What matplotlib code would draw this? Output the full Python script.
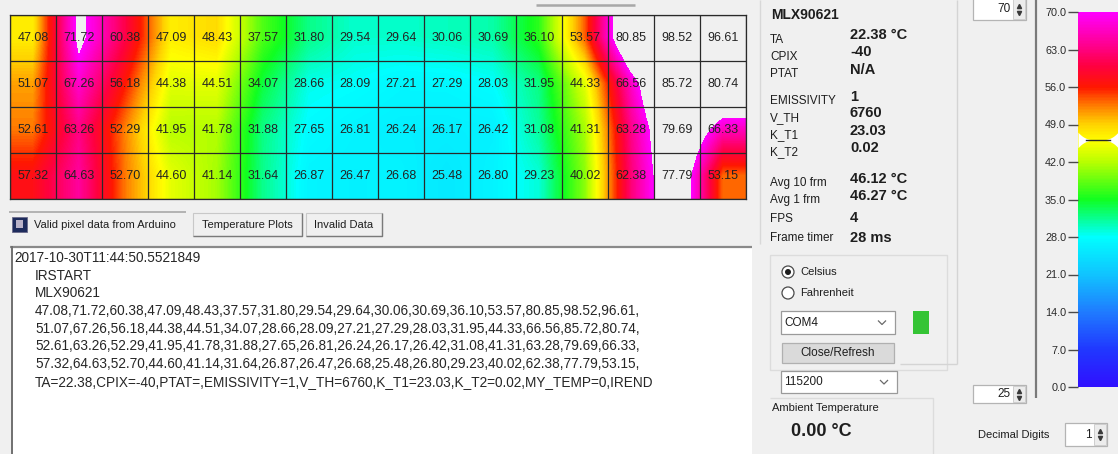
import numpy as np
import matplotlib
matplotlib.use("Agg")
import matplotlib.pyplot as plt
from matplotlib.colors import LinearSegmentedColormap, Normalize
from matplotlib.patches import Rectangle, Circle
import matplotlib.colorbar as mcolorbar

# ---- sensor frame (4 x 16 MLX90621 pixels, deg C) ----
pixel_row_0 = [47.08, 71.72, 60.38, 47.09, 48.43, 37.57, 31.80, 29.54, 29.64, 30.06, 30.69, 36.10, 53.57, 80.85, 98.52, 96.61]
pixel_row_1 = [51.07, 67.26, 56.18, 44.38, 44.51, 34.07, 28.66, 28.09, 27.21, 27.29, 28.03, 31.95, 44.33, 66.56, 85.72, 80.74]
pixel_row_2 = [52.61, 63.26, 52.29, 41.95, 41.78, 31.88, 27.65, 26.81, 26.24, 26.17, 26.42, 31.08, 41.31, 63.28, 79.69, 66.33]
pixel_row_3 = [57.32, 64.63, 52.70, 44.60, 41.14, 31.64, 26.87, 26.47, 26.68, 25.48, 26.80, 29.23, 40.02, 62.38, 77.79, 53.15]

# ---- sensor parameters ----
timestamp = "2017-10-30T11:44:50.5521849"
sensor_name = "MLX90621"
ta = 22.38
cpix = -40
emissivity = 1
v_th = 6760
k_t1 = 23.03
k_t2 = 0.02
my_temp = 0
avg_10_frames = 46.12
avg_1_frame = 46.27
fps = 4
frame_timer_ms = 28
ambient_temp = 0.00

# ---- colour scale ----
scale_min = 0.0
scale_max = 70.0
scale_ticks = [0.0, 7.0, 14.0, 21.0, 28.0, 35.0, 42.0, 49.0, 56.0, 63.0, 70.0]
spin_high = 70
spin_low = 25
decimal_digits = 1
com_port = "COM4"
baud_rate = 115200

tab_labels = ["Valid pixel data from Arduino", "Temperature Plots", "Invalid Data"]

W, H = 1118, 454
BG = "#f0f0f0"
FONT = "Liberation Sans"

pixels = np.array([pixel_row_0, pixel_row_1, pixel_row_2, pixel_row_3])
n_rows, n_cols = pixels.shape

cmap = LinearSegmentedColormap.from_list("thermal", [
    (0 / 70, "#3010ff"), (7 / 70, "#2038ff"), (14 / 70, "#1f7cff"),
    (21 / 70, "#10c4ff"), (28 / 70, "#00ffff"), (35 / 70, "#10ff20"),
    (42 / 70, "#b8ff00"), (46 / 70, "#ffff00"), (49 / 70, "#ffd400"),
    (52 / 70, "#ff8c00"), (56 / 70, "#ff1800"), (60 / 70, "#ff0040"),
    (64 / 70, "#ff0090"), (70 / 70, "#ff00ff")])
cmap.set_over(BG)
cmap.set_under("#3010ff")
norm = Normalize(vmin=scale_min, vmax=scale_max)

fig = plt.figure(figsize=(W / 100, H / 100), dpi=100, facecolor=BG)


def px_axes(x, y, w, h):
    return fig.add_axes([x / W, 1 - (y + h) / H, w / W, h / H])


# ---- window chrome drawn in pixel coordinates ----
ui = fig.add_axes([0, 0, 1, 1])
ui.set_xlim(0, W)
ui.set_ylim(H, 0)
ui.axis("off")
ui.set_facecolor(BG)


def rect(x0, y0, x1, y1, fc="none", ec="none", lw=1.0, z=1):
    ui.add_patch(Rectangle((x0, y0), x1 - x0, y1 - y0, facecolor=fc,
                           edgecolor=ec, linewidth=lw, zorder=z))


def line(xs, ys, c="#a0a0a0", lw=1.0, z=2):
    ui.plot(xs, ys, color=c, linewidth=lw, zorder=z, solid_capstyle="butt")


def txt(x, y, s, size=8.5, weight="normal", ha="left", va="center", c="#1e1e1e"):
    ui.text(x, y, s, fontsize=size, fontweight=weight, ha=ha, va=va,
            color=c, family=FONT, zorder=5)


# small scroll bar above the grid
line([536, 635], [5, 5], c="#a8a8a8", lw=1.8)

# tabs
line([9, 186], [212, 212], c="#a8a8a8", lw=1.2)
rect(12, 217, 27, 232, fc="#1d2b5c", ec="#6a6a8a", lw=0.6)
rect(16, 220, 23, 228, fc="#b9b2c8")
txt(34, 225, tab_labels[0], size=8)
for (x0, x1, lab) in [(193, 302, tab_labels[1]), (306, 382, tab_labels[2])]:
    rect(x0, 213, x1, 236, fc="#f0f0f0", ec="#c8c8c8", lw=0.8)
    line([x0, x1, x1], [236, 236, 213], c="#7a7a7a", lw=1.0)
    txt((x0 + x1) / 2, 225, lab, size=8, ha="center")

# serial log box
rect(12, 246, 752, 456, fc="white")
line([10, 752], [246.5, 246.5], c="#8a8a8a", lw=1.6)
line([12, 12], [246, 454], c="#707070", lw=1.4)

data_lines = [",".join(f"{v:.2f}" for v in row) + "," for row in pixels]
footer = (f"TA={ta:.2f},CPIX={cpix},PTAT=,EMISSIVITY={emissivity},V_TH={v_th},"
          f"K_T1={k_t1:.2f},K_T2={k_t2:.2f},MY_TEMP={my_temp},IREND")
log_lines = [(14, timestamp), (35, "IRSTART"), (35, sensor_name)] + \
            [(35, s) for s in data_lines] + [(35, footer)]
for i, (x, s) in enumerate(log_lines):
    txt(x, 258 + i * 17.7, s, size=9.8, c="#262626")

# ---- sensor readout panel ----
line([760, 760], [0, 244], c="#d8d8d8", lw=1.0)
txt(771, 15, sensor_name, size=10, weight="bold")
panel_rows = [
    ("TA", 40, f"{ta:.2f} °C", 35),
    ("CPIX", 57, f"{cpix}", 52),
    ("PTAT", 74, "N/A", 70),
    ("EMISSIVITY", 101, f"{emissivity}", 97),
    ("V_TH", 118, f"{v_th}", 113),
    ("K_T1", 135, f"{k_t1:.2f}", 131),
    ("K_T2", 152, f"{k_t2:.2f}", 148),
    ("Avg 10 frm", 183, f"{avg_10_frames:.2f} °C", 179),
    ("Avg 1 frm", 200, f"{avg_1_frame:.2f} °C", 196),
    ("FPS", 219, f"{fps}", 218),
    ("Frame timer", 238, f"{frame_timer_ms} ms", 238),
]
for lab, ly, val, vy in panel_rows:
    txt(770, ly, lab, size=8.5)
    txt(850, vy, val, size=10.5, weight="bold")

# options group
line([770, 947, 947, 770, 770], [255, 255, 370, 370, 255], c="#dcdcdc", lw=1.0)
line([957, 957], [0, 364], c="#d4d4d4", lw=1.0)
line([900, 957], [364, 364], c="#d4d4d4", lw=1.0)

ui.add_patch(Circle((788, 272), 6, facecolor="white", edgecolor="#4a4a4a", lw=0.9, zorder=3))
ui.add_patch(Circle((788, 272), 3, facecolor="#1e1e1e", edgecolor="none", zorder=4))
txt(800, 272, "Celsius", size=8)
ui.add_patch(Circle((788, 293), 6, facecolor="white", edgecolor="#4a4a4a", lw=0.9, zorder=3))
txt(800, 293, "Fahrenheit", size=8)


def combo(x0, y0, x1, y1, label):
    rect(x0, y0, x1, y1, fc="white", ec="#9a9a9a", lw=0.9, z=2)
    txt(x0 + 3, (y0 + y1) / 2, label, size=8.5)
    cx, cy = x1 - 13, (y0 + y1) / 2
    line([cx - 4, cx, cx + 4], [cy - 2, cy + 2, cy - 2], c="#6a6a6a", lw=0.9, z=3)


combo(781, 311, 895, 334, com_port)
rect(913, 311, 929, 334, fc="#35c435")
rect(782, 343, 894, 363, fc="#dadada", ec="#b0b0b0", lw=0.9)
txt(838, 353, "Close/Refresh", size=8.5, ha="center")
combo(781, 371, 897, 393, f"{baud_rate}")

# ambient temperature group
line([770, 933, 933], [398, 398, 454], c="#dcdcdc", lw=1.0)
txt(772, 408, "Ambient Temperature", size=8)
txt(791, 431, f"{ambient_temp:.2f} °C", size=13, weight="bold")


def spinbox(x0, y0, x1, y1, value):
    rect(x0, y0, x1, y1, fc="white", ec="#b4b4b4", lw=0.9, z=2)
    rect(x1 - 13, y0 + 1, x1 - 1, y1 - 1, fc="#ececec", ec="#c8c8c8", lw=0.6, z=3)
    cy = (y0 + y1) / 2
    ui.plot([x1 - 7], [cy - 3.5], marker="^", ms=3, color="#3a3a3a", zorder=4)
    ui.plot([x1 - 7], [cy + 3.5], marker="v", ms=3, color="#3a3a3a", zorder=4)
    txt(x1 - 15, cy, f"{value}", size=8.5, ha="right")


spinbox(973, -2, 1026, 20, spin_high)
spinbox(973, 385, 1026, 403, spin_low)
txt(978, 435, "Decimal Digits", size=8)
spinbox(1065, 423, 1107, 446, decimal_digits)
line([1036, 1036], [0, 398], c="#7a7a7a", lw=1.6)

# ---- interpolated thermal image ----
hm = px_axes(10, 15, 736, 184)
hm.imshow(pixels, cmap=cmap, norm=norm, interpolation="bilinear",
          interpolation_stage="data", aspect="auto",
          extent=(-0.5, n_cols - 0.5, n_rows - 0.5, -0.5))
for c in range(n_cols + 1):
    hm.axvline(c - 0.5, color="#2a2a2a", lw=0.9)
for r in range(n_rows + 1):
    hm.axhline(r - 0.5, color="#2a2a2a", lw=0.9)
for r in range(n_rows):
    for c in range(n_cols):
        hm.text(c, r, f"{pixels[r, c]:.2f}", ha="center", va="center",
                fontsize=9, color="#232323", family=FONT)
hm.set_xlim(-0.5, n_cols - 0.5)
hm.set_ylim(n_rows - 0.5, -0.5)
hm.set_xticks([])
hm.set_yticks([])
for s in hm.spines.values():
    s.set_color("#2a2a2a")
    s.set_linewidth(0.9)

# ---- colour scale bar ----
cax = px_axes(1078, 12, 40, 375)
cb = mcolorbar.ColorbarBase(cax, cmap=cmap, norm=norm, orientation="vertical",
                            ticks=scale_ticks)
cb.outline.set_visible(False)
cax.yaxis.set_ticks_position("left")
cax.yaxis.set_tick_params(length=7, width=1.0, color="#4a4a4a", pad=1.5,
                          labelsize=7.8, labelcolor="#2a2a2a")
cax.set_yticklabels([f"{t:.1f}" for t in scale_ticks], family=FONT)

# marker for the running average on the scale
xs = np.linspace(0, 1, 60)
half = 1.45 * np.abs((xs - 0.5) / 0.5) ** 3
cax.fill_between(xs, avg_10_frames - half, avg_10_frames + half,
                 color="white", lw=0, zorder=3)
cax.plot([0.2, 0.8], [avg_10_frames, avg_10_frames], color="#2a2a2a", lw=1.0, zorder=4)
cax.set_xlim(0, 1)

fig.savefig("out.png", dpi=100, facecolor=BG)
